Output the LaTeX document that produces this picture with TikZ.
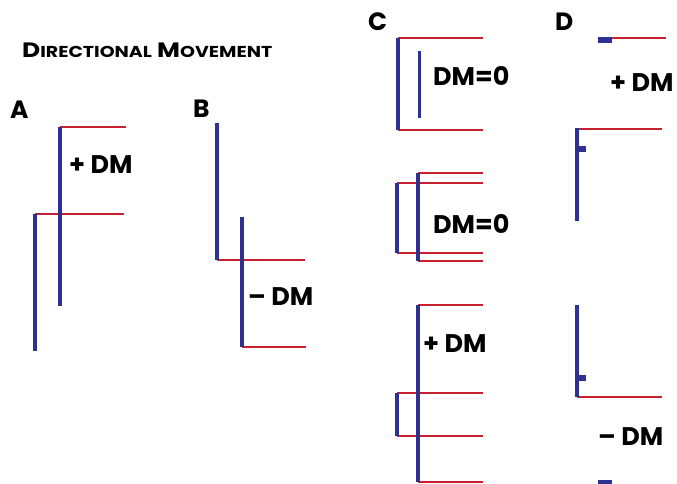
\documentclass[tikz,border=0pt]{standalone}
\usepackage{fontspec}
\setmainfont{Poppins}
\definecolor{barblue}{HTML}{2E3192}
\definecolor{barred}{HTML}{C8202F}
\tikzset{
  bluebar/.style={draw=barblue,line width=3.5pt},
  thinblue/.style={draw=barblue,line width=3pt},
  redline/.style={draw=barred,line width=1.8pt},
  blueblock/.style={fill=barblue,draw=none},
  lbl/.style={font=\fontsize{25.5}{25.5}\selectfont\bfseries,inner sep=0pt,anchor=base west},
  panel/.style={font=\fontsize{25}{25}\selectfont\bfseries,inner sep=0pt,anchor=base west}
}
\begin{document}
\begin{tikzpicture}[x=1pt,y=-1pt]
\useasboundingbox (0,0) rectangle (677,483);
% title
\node[inner sep=0pt,anchor=base west,font=\fontsize{20}{20}\selectfont\bfseries] (title) at (22,57)
  {\resizebox{250pt}{14.6pt}{D\scalebox{0.76}{IRECTIONAL} M\scalebox{0.76}{OVEMENT}}};
% panel letters
\node[panel] (pA) at (10,118) {A};
\node[panel] (pB) at (193,117) {B};
\node[panel] (pC) at (368,30) {C};
\node[panel] (pD) at (555,30) {D};
% ---- A ----
\draw[redline] (60,127) -- (126,127);
\draw[redline] (35,214) -- (124,214);
\draw[bluebar] (60,127) -- (60,306);
\draw[bluebar] (35,214) -- (35,351);
\node[lbl] (lA) at (69,173) {+ DM};
% ---- B ----
\draw[redline] (217,260) -- (305,260);
\draw[redline] (242,347) -- (306,347);
\draw[bluebar] (217,123) -- (217,260);
\draw[bluebar] (242,217) -- (242,347);
\node[lbl] (lB) at (248,305) {– DM};
% ---- C top ----
\draw[redline] (398,38) -- (483,38);
\draw[redline] (398,130) -- (483,130);
\draw[bluebar] (398,38) -- (398,130);
\draw[thinblue] (419,51) -- (419,118);
\node[lbl] (lC1) at (433,85) {DM=0};
% ---- C middle ----
\draw[redline] (418,173) -- (483,173);
\draw[redline] (397,183) -- (483,183);
\draw[redline] (397,253) -- (483,253);
\draw[redline] (418,261) -- (483,261);
\draw[bluebar] (397,183) -- (397,253);
\draw[bluebar] (418,173) -- (418,261);
\node[lbl] (lC2) at (433,233) {DM=0};
% ---- C bottom ----
\draw[redline] (418,305) -- (483,305);
\draw[redline] (397,393) -- (483,393);
\draw[redline] (397,436) -- (483,436);
\draw[redline] (418,482) -- (483,482);
\draw[bluebar] (397,393) -- (397,436);
\draw[bluebar] (418,305) -- (418,482);
\node[lbl] (lC3) at (423,352) {+ DM};
% ---- D ----
\draw[redline] (605,38.3) -- (666,38.3);
\fill[blueblock] (598,37) rectangle (612,43.3);
\node[lbl] (lD1) at (610,91) {+ DM};
\draw[redline] (577,129) -- (662,129);
\draw[bluebar] (577,128) -- (577,221);
\fill[blueblock] (577,146) rectangle (586,151.7);
\draw[redline] (577,397) -- (662,397);
\draw[bluebar] (577,305) -- (577,397);
\fill[blueblock] (577,375) rectangle (586,380.7);
\node[lbl] (lD2) at (598,445) {– DM};
\fill[blueblock] (598,480) rectangle (612,486);
\end{tikzpicture}
\end{document}
